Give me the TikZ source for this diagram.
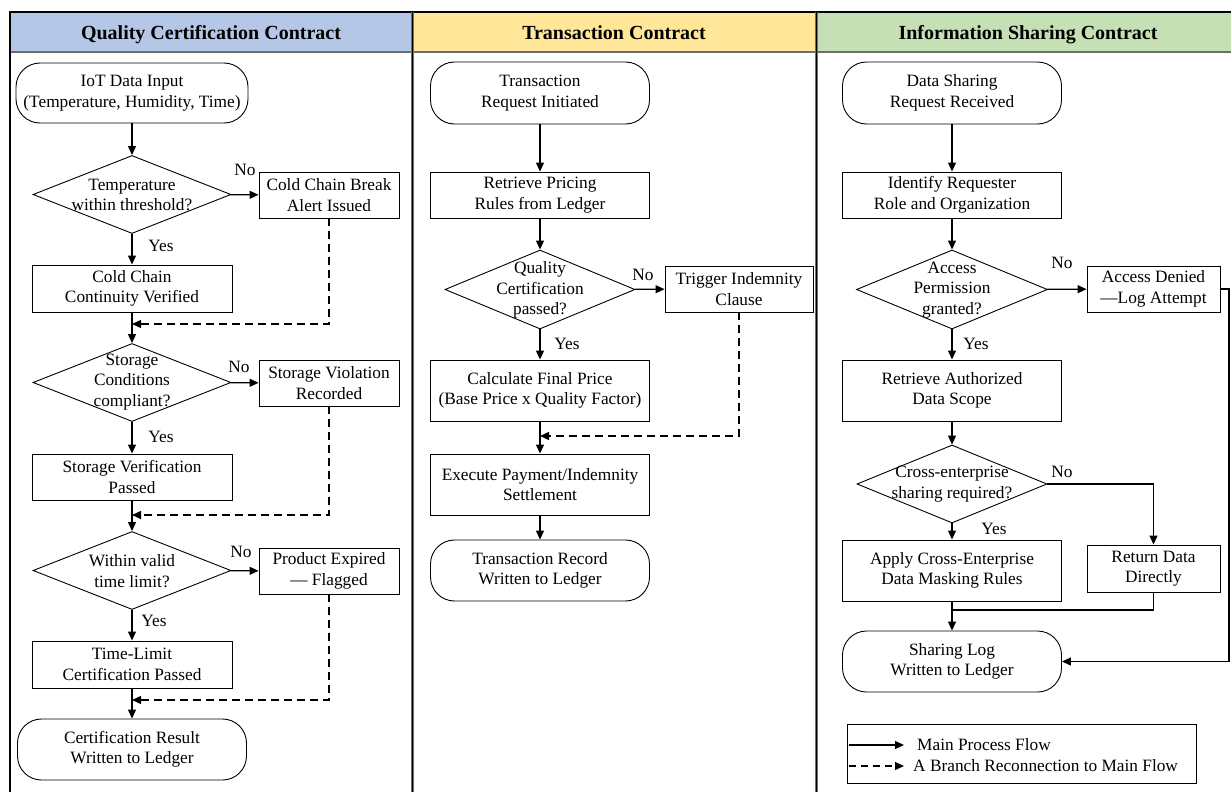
\documentclass[tikz,border=0pt]{standalone}
\usepackage{fontspec}
\setmainfont{Liberation Serif}
\usetikzlibrary{arrows.meta,shapes.geometric}
\definecolor{hblue}{HTML}{B4C7E7}
\definecolor{hyellow}{HTML}{FFE699}
\definecolor{hgreen}{HTML}{C5E0B4}
\definecolor{sepgray}{HTML}{6E6E6E}
\begin{document}
\begin{tikzpicture}[x=1pt,y=-1pt,
  font=\fontsize{17.3}{20.5}\selectfont,
  proc/.style={draw, line width=0.9pt, align=center, inner sep=0pt, fill=white},
  term/.style={proc, rounded corners=24pt},
  dec/.style={draw, diamond, line width=0.9pt, inner sep=0pt, minimum width=198pt, minimum height=78pt},
  dtext/.style={align=center, inner sep=0pt},
  hdr/.style={font=\fontsize{20}{22}\selectfont\bfseries, inner sep=0pt, anchor=base},
  lbl/.style={inner sep=0pt},
  line/.style={line width=1.2pt},
  flow/.style={line, -{Triangle[length=9pt,width=8pt]}},
  back/.style={flow, dash pattern=on 8pt off 5pt}]
\useasboundingbox (0,0) rectangle (1231,792);

% header bands
\fill[hblue] (10,12) rectangle (412,52);
\fill[hyellow] (412,12) rectangle (816,52);
\fill[hgreen] (816,12) rectangle (1231,52);
\draw[sepgray, line width=2pt] (10,52) -- (1231,52);
\draw[line width=1.2pt] (10,792) -- (10,12) -- (1231,12);
\foreach \xx in {412,816} {
  \draw[sepgray, line width=3pt] (\xx,12) -- (\xx,792);
  \draw[black, line width=0.8pt] (\xx,12) -- (\xx,792);
}
\node[hdr] (h1) at (211,40) {Quality Certification Contract};
\node[hdr] (h2) at (614,40) {Transaction Contract};
\node[hdr] (h3) at (1028,40) {Information Sharing Contract};

% ---------------- Lane 1 ----------------
\node[term, minimum width=232pt, minimum height=60pt] (s1) at (132,93) {IoT Data Input\\(Temperature, Humidity, Time)};
\node[dec] (d1) at (132,194.5) {};
\node[dtext] (d1t) at (132,195) {Temperature\\within threshold?};
\node[proc, minimum width=140pt, minimum height=46pt] (a1) at (329,195) {Cold Chain Break\\Alert Issued};
\node[proc, minimum width=200pt, minimum height=47pt] (c1) at (132,288.5) {Cold Chain\\Continuity Verified};
\node[dec] (d2) at (132,382.5) {};
\node[dtext] (d2t) at (132,382) {Storage\\Conditions\\compliant?};
\node[proc, minimum width=140pt, minimum height=46pt] (a2) at (329,383) {Storage Violation\\Recorded};
\node[proc, minimum width=200pt, minimum height=46pt] (c2) at (132,477) {Storage Verification\\Passed};
\node[dec] (d3) at (132,570.5) {};
\node[dtext] (d3t) at (132,571) {Within valid\\time limit?};
\node[proc, minimum width=140pt, minimum height=46pt] (a3) at (329,571) {Product Expired\\— Flagged};
\node[proc, minimum width=200pt, minimum height=47pt] (c3) at (132,664.5) {Time-Limit\\Certification Passed};
\node[term, minimum width=229pt, minimum height=61pt] (e1) at (132,749.5) {Certification Result\\Written to Ledger};

\coordinate (m1) at (132,324);
\coordinate (m2) at (132,515);
\coordinate (m3) at (132,700);

\draw[flow] (s1) -- (d1);
\draw[flow] (d1) -- (a1);
\draw[flow] (d1) -- (c1);
\draw[flow] (c1) -- (d2);
\draw[back] (a1.south) |- (m1);
\draw[flow] (d2) -- (a2);
\draw[flow] (d2) -- (c2);
\draw[flow] (c2) -- (d3);
\draw[back] (a2.south) |- (m2);
\draw[flow] (d3) -- (a3);
\draw[flow] (d3) -- (c3);
\draw[flow] (c3) -- (e1);
\draw[back] (a3.south) |- (m3);

\node[lbl] (n1) at (245,170) {No};
\node[lbl] (y1) at (161,246) {Yes};
\node[lbl] (n2) at (239,367) {No};
\node[lbl] (y2) at (161,437) {Yes};
\node[lbl] (n3) at (241,552) {No};
\node[lbl] (y3) at (154,621) {Yes};

% ---------------- Lane 2 ----------------
\node[term, minimum width=219pt, minimum height=62pt] (s2) at (540,93) {Transaction\\Request Initiated};
\node[proc, minimum width=219pt, minimum height=46pt] (b1) at (540,195) {Retrieve Pricing\\Rules from Ledger};
\node[dec, minimum width=190pt, minimum height=79pt] (d4) at (540,289.5) {};
\node[dtext] (d4t) at (540,290) {Quality\\Certification\\passed?};
\node[proc, minimum width=148pt, minimum height=46pt] (a4) at (739,289) {Trigger Indemnity\\Clause};
\node[proc, minimum width=219pt, minimum height=61pt] (b2) at (540,390.5) {Calculate Final Price\\(Base Price x Quality Factor)};
\node[proc, minimum width=219pt, minimum height=61pt] (b3) at (540,484.5) {Execute Payment/Indemnity\\Settlement};
\node[term, minimum width=219pt, minimum height=61pt] (e2) at (540,570.5) {Transaction Record\\Written to Ledger};

\coordinate (m4) at (540,436);
\draw[flow] (s2) -- (b1);
\draw[flow] (b1) -- (d4);
\draw[flow] (d4) -- (a4);
\draw[flow] (d4) -- (b2);
\draw[flow] (b2) -- (b3);
\draw[back] (a4.south) |- (m4);
\draw[flow] (b3) -- (e2);

\node[lbl] (n4) at (643,275) {No};
\node[lbl] (y4) at (567,344) {Yes};

% ---------------- Lane 3 ----------------
\node[term, minimum width=219pt, minimum height=62pt] (s3) at (952,93) {Data Sharing\\Request Received};
\node[proc, minimum width=219pt, minimum height=46pt] (g1) at (952,195) {Identify Requester\\Role and Organization};
\node[dec, minimum width=191pt, minimum height=79pt] (d5) at (952,289.5) {};
\node[dtext] (d5t) at (952,290) {Access\\Permission\\granted?};
\node[proc, minimum width=133pt, minimum height=46pt] (a5) at (1153.5,289) {Access Denied\\—Log Attempt};
\node[proc, minimum width=219pt, minimum height=61pt] (g2) at (952,390.5) {Retrieve Authorized\\Data Scope};
\node[dec, minimum width=190pt, minimum height=78pt] (d6) at (952,484) {};
\node[dtext] (d6t) at (952,484) {Cross-enterprise\\sharing required?};
\node[proc, minimum width=219pt, minimum height=61pt] (g3) at (952,570.5) {Apply Cross-Enterprise\\Data Masking Rules};
\node[proc, minimum width=133pt, minimum height=47pt] (a6) at (1153.5,568.5) {Return Data\\Directly};
\node[term, minimum width=219pt, minimum height=61pt] (e3) at (952,661.5) {Sharing Log\\Written to Ledger};

\coordinate (r1) at (1229,289);
\coordinate (m5) at (952,610);
\draw[flow] (s3) -- (g1);
\draw[flow] (g1) -- (d5);
\draw[flow] (d5) -- (a5);
\draw[flow] (a5.east) -- (r1) |- (e3.east);
\draw[flow] (d5) -- (g2);
\draw[flow] (g2) -- (d6);
\draw[flow] (d6.east) -| (a6.north);
\draw[flow] (d6) -- (g3);
\draw[line] (a6.south) |- (m5);
\draw[flow] (g3) -- (e3);

\node[lbl] (n5) at (1062,263) {No};
\node[lbl] (y5) at (976,344) {Yes};
\node[lbl] (n6) at (1062,472) {No};
\node[lbl] (y6) at (994,529) {Yes};

% ---------------- Legend ----------------
\node[draw, line width=0.9pt, minimum width=349pt, minimum height=59pt, inner sep=0pt] (lg) at (1021.5,753.5) {};
\coordinate (l1a) at (849,745);
\coordinate (l1b) at (904,745);
\coordinate (l2a) at (849,766);
\coordinate (l2b) at (904,766);
\draw[flow] (l1a) -- (l1b);
\draw[back, dash pattern=on 7pt off 5pt] (l2a) -- (l2b);
\node[lbl, anchor=west] (lt1) at (917,745) {Main Process Flow};
\node[lbl, anchor=west] (lt2) at (913,766) {A Branch Reconnection to Main Flow};
\end{tikzpicture}
\end{document}
